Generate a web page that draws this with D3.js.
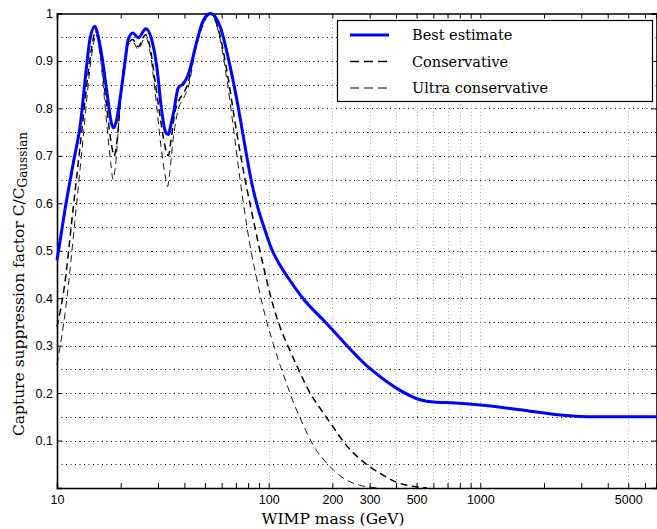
<!DOCTYPE html>
<html>
<head>
<meta charset="utf-8">
<script src="https://cdn.jsdelivr.net/npm/d3@7"></script>
<style>
  html, body { margin: 0; padding: 0; background: #fff; }
  svg { display: block; }
</style>
</head>
<body>
<svg id="chart" width="657" height="529"></svg>
<script>
// ---------- data ----------
const seriesNames = ["Best estimate", "Conservative", "Ultra conservative"];

const bestMass = [10, 10.9, 12, 12.85, 13.8, 14.3, 15.1, 15.6, 16.3, 17.2, 18.1, 18.5, 19.0, 19.85, 20.95, 21.7, 22.8, 24.2, 26.3, 28, 29.6, 31.2, 32.6, 33.6, 34.5, 35.5, 37.4, 39.5, 41.6, 45.6, 48.9, 53.2, 58.9, 65.7, 72, 78, 83, 89, 95, 103, 113, 125, 145, 185, 300, 403, 519, 600, 693, 1000, 1539, 2377, 3500, 6800];
const bestVal  = [0.48, 0.586, 0.69, 0.762, 0.889, 0.945, 0.973, 0.955, 0.91, 0.835, 0.768, 0.759, 0.77, 0.82, 0.897, 0.945, 0.959, 0.949, 0.968, 0.945, 0.889, 0.797, 0.75, 0.745, 0.765, 0.79, 0.843, 0.852, 0.87, 0.938, 0.984, 1.0, 0.973, 0.889, 0.80, 0.71, 0.645, 0.59, 0.55, 0.505, 0.47, 0.44, 0.40, 0.35, 0.2525, 0.21, 0.186, 0.181, 0.18, 0.175, 0.165, 0.154, 0.15, 0.15];

const consMass = [10, 10.8, 11.9, 13, 14, 14.6, 15.2, 16, 17, 18, 18.6, 19.2, 20, 21, 22, 22.8, 24.2, 26.2, 27.5, 29, 31, 32.8, 33.6, 34.5, 36, 38, 40, 42, 45, 49, 53.2, 58, 64, 70, 77, 82, 87, 92, 97, 102, 112, 126, 140, 157, 175, 195, 233, 300, 347, 403, 488, 560];
const consVal  = [0.34, 0.42, 0.586, 0.74, 0.87, 0.93, 0.963, 0.92, 0.82, 0.73, 0.70, 0.73, 0.82, 0.91, 0.94, 0.945, 0.93, 0.955, 0.93, 0.86, 0.77, 0.71, 0.70, 0.73, 0.79, 0.82, 0.835, 0.86, 0.93, 0.98, 1.0, 0.965, 0.87, 0.76, 0.655, 0.595, 0.54, 0.49, 0.445, 0.405, 0.345, 0.29, 0.245, 0.20, 0.168, 0.138, 0.09, 0.045, 0.027, 0.012, 0.003, 0.0];

const ultraMass = [10, 11, 12.3, 13.3, 14.2, 14.8, 15.3, 16, 17, 18, 18.4, 18.9, 19.8, 20.8, 21.8, 22.8, 24.2, 26.2, 27.5, 29, 31, 32.7, 33.3, 34, 35.5, 37.5, 39.5, 42, 45, 49, 53.2, 58, 64, 69, 73, 76, 79, 82.5, 87, 92, 98, 105, 113, 121.6, 131, 140.6, 162.6, 195, 233, 280, 330];
const ultraVal  = [0.26, 0.38, 0.586, 0.74, 0.87, 0.93, 0.955, 0.91, 0.79, 0.68, 0.65, 0.68, 0.80, 0.90, 0.935, 0.94, 0.925, 0.95, 0.92, 0.84, 0.72, 0.65, 0.635, 0.66, 0.74, 0.80, 0.82, 0.85, 0.92, 0.975, 1.0, 0.96, 0.85, 0.74, 0.655, 0.60, 0.55, 0.50, 0.45, 0.40, 0.35, 0.305, 0.26, 0.22, 0.18, 0.148, 0.09, 0.045, 0.017, 0.004, 0.0];

const xTickLabels = [10, 100, 200, 300, 500, 1000, 5000];
const xMinorTicks = [20, 30, 40, 50, 60, 70, 80, 90, 200, 300, 400, 500, 600, 700, 800, 900, 2000, 3000, 4000, 5000, 6000];
const xGridValues = [100, 200, 300, 400, 500, 600, 700, 800, 900, 1000, 5000];
const yTickValues = [0.1, 0.2, 0.3, 0.4, 0.5, 0.6, 0.7, 0.8, 0.9, 1.0];
const yGridValues = [0.05, 0.1, 0.15, 0.2, 0.25, 0.3, 0.35, 0.4, 0.45, 0.5, 0.55, 0.6, 0.65, 0.7, 0.75, 0.8, 0.85, 0.9, 0.95];

(function () {
// ---------- layout ----------
const svg = d3.select("#chart");
const pL = 57, pR = 656.5, pT = 13.5, pB = 488;
const x = d3.scaleLog().domain([10, 6800]).range([pL, pR]);
const y = d3.scaleLinear().domain([0, 1]).range([pB, pT]);

const tickFont = "'Liberation Sans', Arial, Helvetica, sans-serif";
const serif = "'DejaVu Serif', 'Liberation Serif', serif";

// grid: horizontal dotted black
svg.append("g").selectAll("line").data(yGridValues).join("line")
  .attr("x1", pL).attr("x2", pR)
  .attr("y1", d => Math.round(y(d)) + 0.5).attr("y2", d => Math.round(y(d)) + 0.5)
  .attr("stroke", "#000").attr("stroke-width", 1)
  .attr("stroke-dasharray", "1,3.5");

// grid: vertical dotted gray
svg.append("g").selectAll("line").data(xGridValues).join("line")
  .attr("x1", d => Math.round(x(d)) + 0.5).attr("x2", d => Math.round(x(d)) + 0.5)
  .attr("y1", pT).attr("y2", pB)
  .attr("stroke", "#b0b0b0").attr("stroke-width", 1)
  .attr("stroke-dasharray", "1,2.5");

// axes (inward ticks, Matlab style)
const xTickAll = [10, 100, 1000].concat(xMinorTicks);
const xAxisBottom = d3.axisBottom(x).tickValues(xTickAll).tickSize(-5).tickFormat("");
const xAxisTop = d3.axisTop(x).tickValues(xTickAll).tickSize(-5).tickFormat("");
const yAxisLeft = d3.axisLeft(y).tickValues(yTickValues).tickSize(-5)
  .tickFormat(d => d === 1 ? "1" : d3.format(".1f")(d)).tickPadding(8);
const yAxisRight = d3.axisRight(y).tickValues(yTickValues).tickSize(-5).tickFormat("");

const gxb = svg.append("g").attr("transform", `translate(0,${pB})`).call(xAxisBottom);
const gxt = svg.append("g").attr("transform", `translate(0,${pT})`).call(xAxisTop);
const gyl = svg.append("g").attr("transform", `translate(${pL},0)`).call(yAxisLeft);
const gyr = svg.append("g").attr("transform", `translate(${pR},0)`).call(yAxisRight);
[gxb, gxt, gyl, gyr].forEach(g => {
  g.select(".domain").attr("stroke", "#000").attr("stroke-width", 1.6);
  g.selectAll(".tick line").attr("stroke", "#000").attr("stroke-width", 1);
});
gyl.selectAll(".tick text").attr("font-family", tickFont).attr("font-size", 12.5).attr("fill", "#000").attr("dx", 4);

// x tick labels
const xLabelAxis = d3.axisBottom(x).tickValues(xTickLabels).tickSize(0).tickPadding(7)
  .tickFormat(d3.format("d"));
const gxl = svg.append("g").attr("transform", `translate(0,${pB})`).call(xLabelAxis);
gxl.select(".domain").remove();
gxl.selectAll(".tick text").attr("font-family", tickFont).attr("font-size", 12.5).attr("fill", "#000");

// ---------- lines ----------
function series(ms, vs) { return ms.map((m, i) => [m, vs[i]]); }
const line = d3.line().x(d => x(d[0])).y(d => y(d[1])).curve(d3.curveMonotoneX);
const plot = svg.append("g");
plot.append("path").datum(series(ultraMass, ultraVal)).attr("d", line)
  .attr("fill", "none").attr("stroke", "#000").attr("stroke-width", 0.9).attr("stroke-dasharray", "7,4.5");
plot.append("path").datum(series(consMass, consVal)).attr("d", line)
  .attr("fill", "none").attr("stroke", "#000").attr("stroke-width", 1.5).attr("stroke-dasharray", "7,4.5");
plot.append("path").datum(series(bestMass, bestVal)).attr("d", line)
  .attr("fill", "none").attr("stroke", "#0000ff").attr("stroke-width", 3).attr("stroke-linejoin", "round");

// ---------- legend ----------
const lg = svg.append("g");
lg.append("rect").attr("x", 337.5).attr("y", 20.5).attr("width", 315).attr("height", 81)
  .attr("fill", "#fff").attr("stroke", "#000").attr("stroke-width", 1.2);
const legendItems = [
  {name: seriesNames[0], color: "#0000ff", w: 3, dash: null},
  {name: seriesNames[1], color: "#000", w: 1.6, dash: "9,5"},
  {name: seriesNames[2], color: "#000", w: 1, dash: "9,5"}
];
const legY = [35, 61.5, 88];
legendItems.forEach((it, i) => {
  lg.append("line").attr("x1", 350).attr("x2", 389).attr("y1", legY[i]).attr("y2", legY[i])
    .attr("stroke", it.color).attr("stroke-width", it.w).attr("stroke-dasharray", it.dash);
  lg.append("text").attr("x", 412).attr("y", legY[i] + 5).text(it.name)
    .attr("font-family", serif).attr("font-size", 14.5).attr("fill", "#000");
});

// ---------- axis titles ----------
svg.append("text").attr("x", 333).attr("y", 524).attr("text-anchor", "middle")
  .attr("font-family", serif).attr("font-size", 15.5).attr("fill", "#000")
  .text("WIMP mass (GeV)");

const yl = svg.append("text").attr("transform", "translate(24,284) rotate(-90)")
  .attr("text-anchor", "middle").attr("font-family", serif).attr("font-size", 15.5).attr("fill", "#000");
yl.append("tspan").text("Capture suppression factor C/C");
yl.append("tspan").attr("baseline-shift", "-28%").attr("font-size", 12).text("Gaussian");
})();
</script>
</body>
</html>
